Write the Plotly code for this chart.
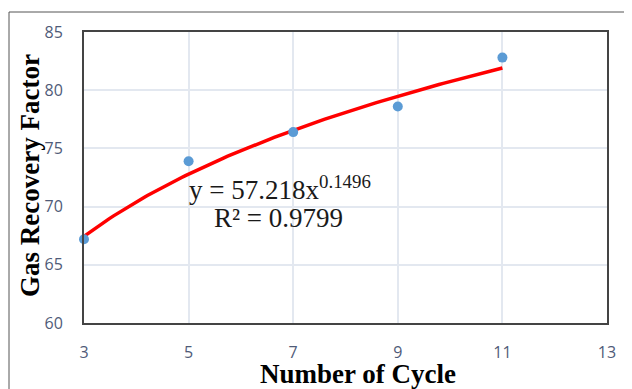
import numpy as np
import plotly.graph_objects as go

cycles = [3, 5, 7, 9, 11]
recovery = [67.2, 73.9, 76.4, 78.6, 82.8]
fit_a = 57.218
fit_b = 0.1496
r2 = 0.9799
x_ticks = [3, 5, 7, 9, 11, 13]
y_ticks = [60, 65, 70, 75, 80, 85]

fit_x = np.linspace(min(cycles), max(cycles), 100)
fit_y = fit_a * fit_x ** fit_b

OFF = 8  # page body margin
FW, FH = 632 - OFF, 389 - OFF
L, R, T, B = 84 - OFF, 607 - OFF, 32 - OFF, 323 - OFF
W, H = R - L, B - T

def px(xp):
    return (xp - OFF - L) / W

def py(yp):
    return (B - (yp - OFF)) / H

fig = go.Figure()
fig.add_trace(go.Scatter(x=fit_x, y=fit_y, mode="lines",
                         line=dict(color="#ff0000", width=3.5), showlegend=False))
fig.add_trace(go.Scatter(x=cycles, y=recovery, mode="markers",
                         marker=dict(color="#5b9bd5", size=10), showlegend=False,
                         cliponaxis=False))

fig.add_annotation(x=4.97, y=71.6, xref="x", yref="y", xanchor="left", yanchor="middle",
                   text=f"y = {fit_a}x<sup>{fit_b}</sup>", showarrow=False,
                   font=dict(family="Liberation Serif", size=27, color="#1a1a1a"))
fig.add_annotation(x=5.45, y=69.0, xref="x", yref="y", xanchor="left", yanchor="middle",
                   text=f"R² = {r2}", showarrow=False,
                   font=dict(family="Liberation Serif", size=27, color="#1a1a1a"))

fig.add_annotation(x=px(358), y=py(374), xref="paper", yref="paper", showarrow=False,
                   xanchor="center", yanchor="middle",
                   text="<b>Number of Cycle</b>", font=dict(family="Liberation Serif", size=27, color="#000"))
fig.add_annotation(x=px(30), y=py(176), xref="paper", yref="paper", showarrow=False,
                   text="<b>Gas Recovery Factor</b>", textangle=-90, xanchor="center", yanchor="middle",
                   font=dict(family="Liberation Serif", size=27, color="#000"))

fig.add_shape(type="rect", xref="paper", yref="paper",
              x0=px(9), x1=1.2, y0=-0.5, y1=py(12),
              line=dict(color="#555", width=1), layer="below")

tick_font = dict(family="Open Sans", size=16, color="#4f5b78")
fig.update_xaxes(range=[3, 13], tickvals=x_ticks, showgrid=True, gridcolor="#e3e8f0", gridwidth=1.5,
                 showline=True, linecolor="#444", linewidth=2, mirror=True, zeroline=False,
                 tickfont=tick_font, ticklabelstandoff=14, automargin=False)
fig.update_yaxes(range=[60, 85], tickvals=y_ticks, showgrid=True, gridcolor="#e3e8f0", gridwidth=1.5,
                 showline=True, linecolor="#444", linewidth=2, mirror=True, zeroline=False,
                 tickfont=tick_font, ticklabelstandoff=16, automargin=False)
fig.update_layout(width=FW, height=FH, margin=dict(l=L, r=FW - R, t=T, b=FH - B, autoexpand=False),
                  plot_bgcolor="white", paper_bgcolor="white")
fig.write_html("out.html")
